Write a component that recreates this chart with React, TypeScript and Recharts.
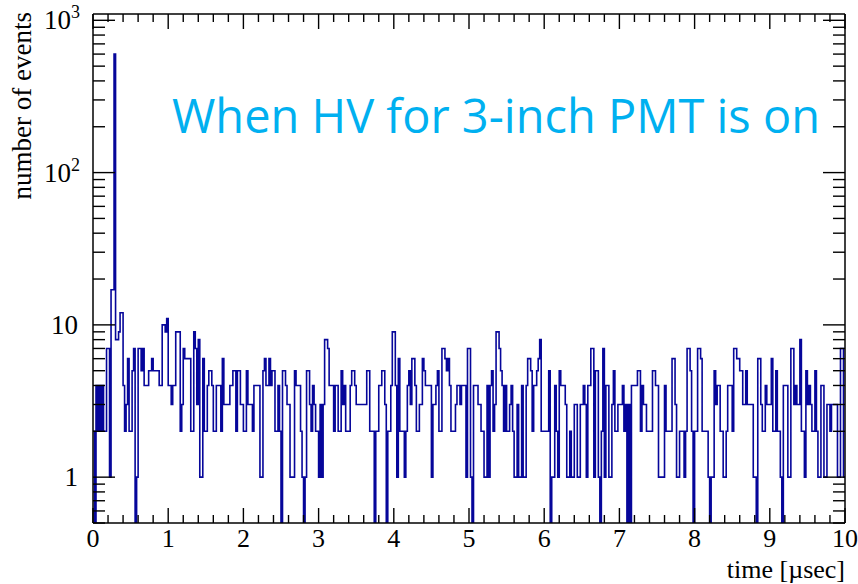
import React from 'react';
import { LineChart, Line, XAxis, YAxis } from 'recharts';

// histogram: 500 bins of 0.02 µsec, counts
const BIN_WIDTH = 0.02;
const counts = [
  2, 0, 4, 2, 4, 2, 4, 2, 2, 7,
  7, 1, 17, 17, 600, 8, 8, 9, 12, 12,
  4, 2, 3, 6, 2, 2, 5, 7, 0, 1,
  7, 7, 5, 7, 4, 4, 4, 5, 5, 6,
  5, 5, 5, 5, 4, 4, 10, 10, 9, 11,
  4, 4, 3, 4, 4, 9, 9, 9, 2, 3,
  7, 6, 6, 6, 6, 2, 2, 9, 7, 3,
  8, 1, 1, 6, 2, 2, 4, 5, 5, 4,
  2, 2, 4, 4, 4, 2, 6, 3, 3, 3,
  3, 4, 4, 5, 5, 2, 5, 5, 3, 3,
  2, 2, 5, 3, 3, 3, 2, 4, 4, 4,
  4, 1, 1, 5, 6, 4, 4, 6, 4, 5,
  5, 2, 2, 4, 2, 0, 5, 5, 4, 3,
  3, 1, 1, 1, 5, 4, 4, 4, 2, 1,
  0, 1, 5, 5, 3, 2, 4, 3, 2, 2,
  1, 3, 1, 3, 8, 8, 7, 4, 4, 4,
  2, 4, 4, 2, 2, 5, 3, 4, 2, 2,
  2, 4, 5, 5, 4, 3, 3, 3, 3, 3,
  3, 3, 5, 5, 2, 2, 2, 0, 2, 2,
  4, 4, 5, 5, 3, 0, 2, 2, 4, 9,
  9, 4, 1, 6, 2, 2, 2, 1, 2, 4,
  5, 3, 6, 6, 4, 2, 2, 3, 3, 6,
  5, 4, 4, 4, 4, 1, 3, 3, 4, 5,
  2, 2, 7, 7, 6, 5, 6, 4, 2, 2,
  2, 3, 4, 4, 3, 4, 4, 4, 1, 7,
  7, 1, 0, 4, 4, 4, 3, 3, 2, 2,
  1, 1, 4, 1, 4, 5, 2, 3, 9, 9,
  7, 5, 4, 2, 4, 2, 2, 3, 4, 2,
  1, 1, 3, 1, 1, 4, 1, 1, 4, 6,
  6, 5, 2, 4, 4, 5, 6, 8, 2, 2,
  2, 2, 2, 5, 0, 1, 1, 4, 2, 1,
  5, 4, 4, 4, 3, 1, 1, 2, 1, 1,
  3, 3, 1, 1, 3, 3, 4, 3, 1, 4,
  4, 7, 7, 1, 5, 5, 1, 0, 2, 7,
  1, 4, 4, 1, 1, 3, 5, 2, 2, 3,
  3, 3, 4, 2, 3, 0, 3, 0, 4, 4,
  4, 4, 5, 5, 2, 4, 3, 3, 2, 2,
  2, 2, 5, 5, 4, 4, 1, 1, 1, 1,
  4, 2, 2, 2, 2, 6, 6, 3, 1, 1,
  2, 2, 2, 1, 2, 7, 7, 5, 2, 0,
  2, 2, 7, 7, 6, 2, 2, 2, 2, 1,
  0, 1, 1, 5, 3, 4, 4, 2, 2, 1,
  1, 2, 4, 4, 4, 2, 7, 7, 6, 6,
  5, 5, 3, 3, 5, 3, 3, 3, 3, 1,
  1, 0, 6, 6, 3, 2, 2, 4, 3, 3,
  3, 6, 2, 2, 5, 2, 2, 1, 0, 4,
  4, 4, 1, 1, 7, 7, 3, 4, 3, 3,
  8, 2, 2, 1, 5, 3, 4, 3, 2, 2,
  5, 2, 1, 1, 4, 4, 1, 1, 3, 3,
  2, 3, 3, 3, 3, 1, 1, 7, 7, 1,
];

const xMajorTicks = [0, 1, 2, 3, 4, 5, 6, 7, 8, 9, 10];
const xTickLabels = ['0', '1', '2', '3', '4', '5', '6', '7', '8', '9', '10'];
const yMajorTicks = [1, 10, 100, 1000];
const yTickLabels = [
  { base: '1', exp: '' },
  { base: '10', exp: '' },
  { base: '10', exp: '2' },
  { base: '10', exp: '3' },
];

const X_DOMAIN = [0, 10];
const Y_DOMAIN = [0.5, 1100];
const ZERO_FLOOR = 0.3; // empty bins are drawn down through the frame bottom

const LINE_COLOR = '#06069a';
const NOTE_COLOR = '#00b0f0';
const SERIF = '"Liberation Serif", "DejaVu Serif", serif';

// minor ticks every 0.2 on x, 2..9 per decade on y
const xTicks: number[] = [];
xMajorTicks.forEach((m, i) => {
  if (i === xMajorTicks.length - 1) {
    xTicks.push(m);
    return;
  }
  for (let k = 0; k < 5; k++) xTicks.push(+(m + k * 0.2).toFixed(2));
});
const yTicks: number[] = [];
[0.1, 1, 10, 100].forEach((d) => {
  for (let k = 1; k < 10; k++) {
    const v = +(d * k).toPrecision(3);
    if (v >= Y_DOMAIN[0] && v <= Y_DOMAIN[1]) yTicks.push(v);
  }
});
yTicks.push(1000);

const data = counts.map((n, i) => ({
  t: +(i * BIN_WIDTH).toFixed(2),
  n: n > 0 ? n : ZERO_FLOOR,
}));
data.push({ t: X_DOMAIN[1], n: data[data.length - 1].n });

const isXMajor = (v: number) => xMajorTicks.includes(v);
const isYMajor = (v: number) => yMajorTicks.includes(v);

const BottomTick = (props: any) => {
  const { x, y, payload } = props;
  const major = isXMajor(payload.value);
  const idx = xMajorTicks.indexOf(payload.value);
  return (
    <g>
      <line x1={x} y1={y} x2={x} y2={y - (major ? 15 : 8)} stroke="#000" strokeWidth={1.4} />
      {major && (
        <text x={x} y={y + 24} textAnchor="middle" fontFamily={SERIF} fontSize={26} fill="#000">
          {xTickLabels[idx]}
        </text>
      )}
    </g>
  );
};

const TopTick = (props: any) => {
  const { x, y, payload } = props;
  const major = isXMajor(payload.value);
  return <line x1={x} y1={y} x2={x} y2={y + (major ? 15 : 8)} stroke="#000" strokeWidth={1.4} />;
};

const LeftTick = (props: any) => {
  const { x, y, payload } = props;
  const major = isYMajor(payload.value);
  const idx = yMajorTicks.indexOf(payload.value);
  const lab = idx >= 0 ? yTickLabels[idx] : null;
  return (
    <g>
      <line x1={x} y1={y} x2={x + (major ? 22 : 12)} y2={y} stroke="#000" strokeWidth={1.4} />
      {lab && (
        <text
          x={x - (lab.exp ? 13 : 15)}
          y={y + 9}
          textAnchor="end"
          fontFamily={SERIF}
          fontSize={27}
          fill="#000"
        >
          {lab.base}
          {lab.exp && (
            <tspan dy={-11} fontSize={18}>
              {lab.exp}
            </tspan>
          )}
        </text>
      )}
    </g>
  );
};

const RightTick = (props: any) => {
  const { x, y, payload } = props;
  const major = isYMajor(payload.value);
  return <line x1={x} y1={y} x2={x - (major ? 22 : 12)} y2={y} stroke="#000" strokeWidth={1.4} />;
};

const frameLine = { stroke: '#000', strokeWidth: 1.5 };

export default function App() {
  return (
    <div style={{ position: 'absolute', left: 0, top: 0, width: 858, height: 584, background: '#fff' }}>
      <LineChart width={858} height={584} data={data} margin={{ top: 0, right: 0, bottom: 0, left: 0 }}>
        <XAxis
          dataKey="t"
          type="number"
          domain={X_DOMAIN}
          ticks={xTicks}
          interval={0}
          height={61}
          tickSize={0}
          tickMargin={0}
          tickLine={false}
          axisLine={frameLine}
          tick={<BottomTick />}
        />
        <XAxis
          xAxisId="top"
          orientation="top"
          dataKey="t"
          type="number"
          domain={X_DOMAIN}
          ticks={xTicks}
          interval={0}
          height={14}
          tickSize={0}
          tickMargin={0}
          tickLine={false}
          axisLine={frameLine}
          tick={<TopTick />}
        />
        <YAxis
          scale="log"
          type="number"
          domain={Y_DOMAIN}
          allowDataOverflow
          ticks={yTicks}
          interval={0}
          width={93}
          tickSize={0}
          tickMargin={0}
          tickLine={false}
          axisLine={frameLine}
          tick={<LeftTick />}
        />
        <YAxis
          yAxisId="right"
          orientation="right"
          scale="log"
          type="number"
          domain={Y_DOMAIN}
          allowDataOverflow
          ticks={yTicks}
          interval={0}
          width={13}
          tickSize={0}
          tickMargin={0}
          tickLine={false}
          axisLine={frameLine}
          tick={<RightTick />}
        />
        <Line
          type="stepAfter"
          dataKey="n"
          stroke={LINE_COLOR}
          strokeWidth={1.6}
          dot={false}
          activeDot={false}
          isAnimationActive={false}
        />
        <text
          x={31}
          y={12}
          transform="rotate(-90 31 12)"
          textAnchor="end"
          fontFamily={SERIF}
          fontSize={27}
          fill="#000"
        >
          number of events
        </text>
        <text x={845} y={578} textAnchor="end" fontFamily={SERIF} fontSize={26} fill="#000">
          time [µsec]
        </text>
        <text
          x={172}
          y={133}
          fontFamily='"Open Sans", "Noto Sans", sans-serif'
          fontSize={47}
          fill={NOTE_COLOR}
          textLength={648}
          lengthAdjust="spacingAndGlyphs"
        >
          When HV for 3-inch PMT is on
        </text>
      </LineChart>
    </div>
  );
}
